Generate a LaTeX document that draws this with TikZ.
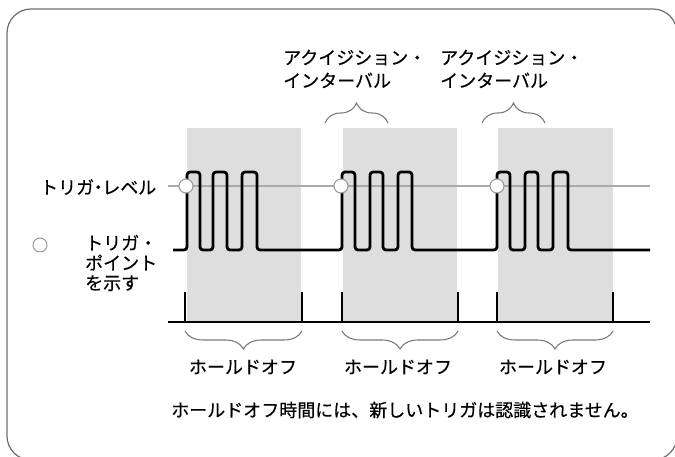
\documentclass[tikz,border=0pt]{standalone}
\usepackage{fontspec}
\setmainfont{Noto Sans CJK JP}[FakeBold=0.4]
\usetikzlibrary{decorations.pathreplacing}
\definecolor{shadegray}{HTML}{DEDEDE}
\definecolor{framegray}{HTML}{6E6E6E}
\definecolor{levelgray}{HTML}{AAAAAA}
\definecolor{bracegray}{HTML}{7A7A7A}
\definecolor{circgray}{HTML}{9A9A9A}
\newcommand{\nd}{\makebox[0.45em]{・}}
\begin{document}
\begin{tikzpicture}[x=1pt,y=-1pt,
  lbl/.style={inner sep=0pt, font=\fontsize{18}{23}\selectfont},
  lbltight/.style={inner sep=0pt, align=left, font=\fontsize{18}{20}\selectfont},
  trig/.style={circle, draw=circgray, fill=white, line width=1.1pt, minimum size=14pt, inner sep=0pt},
  signal/.style={line width=2.8pt, rounded corners=3pt, line join=round},
  tick/.style={line width=1.2pt},
  bracetop/.style={draw=bracegray, line width=1.1pt, decorate, decoration={brace, amplitude=20pt}},
  bracebot/.style={draw=bracegray, line width=1.1pt, decorate, decoration={brace, amplitude=18pt, mirror}}]
\useasboundingbox (0,0) rectangle (675,457);
\begin{scope}
\clip (0,0) rectangle (675,457);
\draw[framegray, line width=1.2pt, rounded corners=24pt] (7,9) rectangle (677,460);
\end{scope}
% shaded holdoff regions
\fill[shadegray] (187,128) rectangle (301,322);
\fill[shadegray] (343,128) rectangle (457,322);
\fill[shadegray] (498,128) rectangle (613,322);
% trigger level line
\coordinate (lvlA) at (168,186);
\coordinate (lvlB) at (650,186);
\draw[levelgray, line width=1.2pt] (lvlA) -- (lvlB);
% signal
\def\L{250}\def\H{172}
\draw[signal] (173,\L) -- (187,\L) -- (187,\H) -- (200,\H) -- (200,\L) -- (213,\L) -- (213,\H) -- (227,\H) -- (227,\L) -- (242,\L) -- (242,\H) -- (257,\H) -- (257,\L)
 -- (342,\L) -- (342,\H) -- (355,\H) -- (355,\L) -- (370,\L) -- (370,\H) -- (383,\H) -- (383,\L) -- (398,\L) -- (398,\H) -- (412,\H) -- (412,\L)
 -- (497,\L) -- (497,\H) -- (510,\H) -- (510,\L) -- (525,\L) -- (525,\H) -- (538,\H) -- (538,\L) -- (553,\L) -- (553,\H) -- (568,\H) -- (568,\L) -- (650,\L);
% trigger points
\node[trig] (t1) at (186,186) {};
\node[trig] (t2) at (341,186) {};
\node[trig] (t3) at (497,186) {};
% baseline and ticks
\coordinate (bA) at (168,322);
\coordinate (bB) at (650,322);
\draw[line width=1.5pt] (bA) -- (bB);
\foreach \x in {185,302,342,458,497,613} \draw[tick] (\x,292) -- (\x,322);
% holdoff braces
\draw[bracebot] (185,331) -- (302,331);
\draw[bracebot] (342,331) -- (458,331);
\draw[bracebot] (497,331) -- (613,331);
% acquisition braces
\draw[bracetop] (325,123) -- (388,123);
\draw[bracetop] (482,123) -- (545,123);
% labels
\node[lbl, anchor=west, align=left] (acq1) at (283,69) {アクイジション・\\インターバル};
\node[lbl, anchor=west, align=left] (acq2) at (440,69) {アクイジション・\\インターバル};
\node[lbl, anchor=west] (tl) at (40,187) {トリガ\nd レベル};
\node[circle, draw=circgray, line width=1pt, minimum size=14pt, inner sep=0pt] (leg) at (40,245) {};
\node[lbltight, anchor=west] (tp) at (85,263) {トリガ・\\ポイント\\を示す};
\node[lbl] (h1) at (243,367) {ホールドオフ};
\node[lbl] (h2) at (398,367) {ホールドオフ};
\node[lbl] (h3) at (553,367) {ホールドオフ};
\node[lbl] (note) at (405,410) {ホールドオフ時間には、新しいトリガは認識されません。};
\end{tikzpicture}
\end{document}
